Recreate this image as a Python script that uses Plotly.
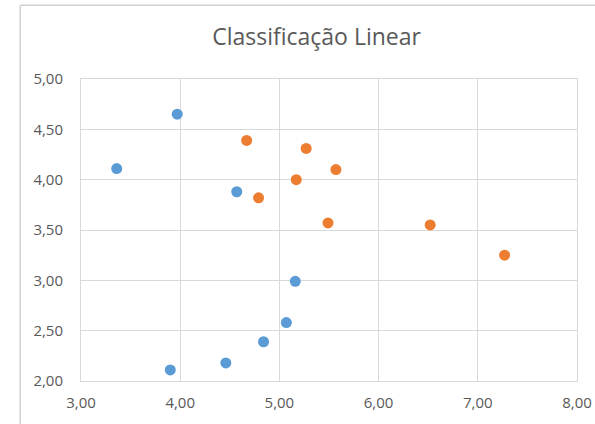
import plotly.graph_objects as go

# Data
blue_x = [3.97, 3.36, 4.57, 5.16, 5.07, 4.84, 4.46, 3.90]
blue_y = [4.65, 4.11, 3.88, 2.99, 2.58, 2.39, 2.18, 2.11]
orange_x = [4.67, 5.27, 5.57, 5.17, 4.79, 5.49, 6.52, 7.27]
orange_y = [4.39, 4.31, 4.10, 4.00, 3.82, 3.57, 3.55, 3.25]

title_text = "Classificação Linear"
x_ticks = [3, 4, 5, 6, 7, 8]
y_ticks = [2.0, 2.5, 3.0, 3.5, 4.0, 4.5, 5.0]

BLUE = "#5B9BD5"
ORANGE = "#ED7D31"
GRID = "#D9D9D9"
TEXT = "#595959"
FONT = "Open Sans"

fig = go.Figure()
fig.add_trace(go.Scatter(x=blue_x, y=blue_y, mode="markers", name="Classe 1",
                         marker=dict(color=BLUE, size=11, line=dict(width=0))))
fig.add_trace(go.Scatter(x=orange_x, y=orange_y, mode="markers", name="Classe 2",
                         marker=dict(color=ORANGE, size=11, line=dict(width=0))))

axis_common = dict(
    showgrid=True, gridcolor=GRID, gridwidth=1,
    showline=True, linecolor=GRID, linewidth=1, mirror=True,
    zeroline=False, ticks="",
    tickfont=dict(family=FONT, size=15, color=TEXT),
    tickformat=".2f",
    automargin=False,
)

fig.update_layout(
    width=595, height=424,
    margin=dict(l=81, r=18, t=79, b=43),
    paper_bgcolor="white", plot_bgcolor="white",
    separators=",.",
    showlegend=False,
    title=dict(text=title_text, font=dict(family=FONT, size=23, color=TEXT),
               x=0.532, xref="container", xanchor="center",
               y=0.912, yref="container", yanchor="middle"),
    xaxis=dict(range=[3, 8], tickvals=x_ticks, ticklabelstandoff=8, **axis_common),
    yaxis=dict(range=[2, 5], tickvals=y_ticks, ticklabelstandoff=14, **axis_common),
    shapes=[
        dict(type="line", xref="paper", yref="paper", x0=-0.1226, x1=1.2,
             y0=1.2438, y1=1.2438, line=dict(color="#D0D0D0", width=1.5)),
        dict(type="line", xref="paper", yref="paper", x0=-0.1226, x1=-0.1226,
             y0=-0.3, y1=1.2438, line=dict(color="#D0D0D0", width=1.5)),
    ],
)

fig.write_html("out.html",
               config={"displayModeBar": False},
               post_script="document.body.style.margin='0';document.body.style.overflow='hidden';")
